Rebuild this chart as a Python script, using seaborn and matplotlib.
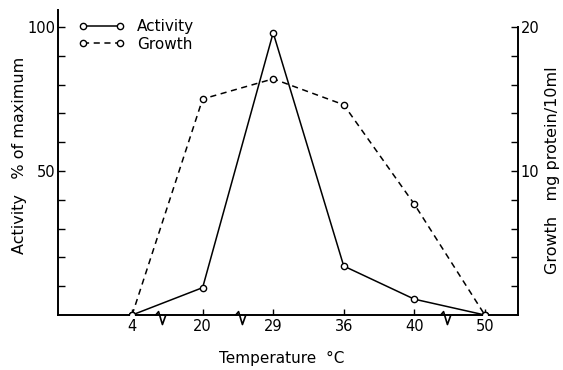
import numpy as np
import pandas as pd
import matplotlib
matplotlib.use("Agg")
import matplotlib.pyplot as plt
from matplotlib.path import Path
import seaborn as sns

# ---- data ----
temperatures = ["4", "20", "29", "36", "40", "50"]
activity = [0, 9.5, 98, 17, 5.5, 0]          # % of maximum
growth = [0, 15.0, 16.4, 14.6, 7.7, 0]       # mg protein / 10 ml
left_ticks = [10, 20, 30, 40, 50, 60, 70, 80, 90, 100]
left_labels = ["", "", "", "", "50", "", "", "", "", "100"]
right_ticks = [2, 4, 6, 8, 10, 12, 14, 16, 18, 20]
right_labels = ["", "", "", "", "10", "", "", "", "", "20"]
break_positions = [0.4, 1.53, 4.43]   # axis-break marks between categories

pos = np.arange(len(temperatures))
df = pd.DataFrame({"pos": pos, "activity": activity, "growth": growth})

sns.set_style("ticks", {"text.color": "black", "xtick.color": "black",
                        "ytick.color": "black", "axes.labelcolor": "black"})
plt.rcParams["font.family"] = ["DejaVu Sans"]

fig = plt.figure(figsize=(5.63, 3.70), dpi=100)
ax = fig.add_axes([58 / 563, 1 - 315 / 370, 460 / 563, 305 / 370])
ax2 = ax.twinx()

line_kw = dict(color="black", linewidth=1.1, marker="o", markersize=4.5,
               markerfacecolor="white", markeredgecolor="black",
               markeredgewidth=1.0)

sns.lineplot(data=df, x="pos", y="activity", ax=ax, label="Activity",
             legend=False, **line_kw)
sns.lineplot(data=df, x="pos", y="growth", ax=ax2, label="Growth",
             legend=False, linestyle=(0, (4, 3)), **line_kw)

ax.set_xlim(-1.05, 5.47)
ax.set_ylim(0, 105.9)
ax2.set_ylim(0, 105.9 / 5)

# x axis
ax.set_xticks(pos)
ax.set_xticklabels(temperatures, fontsize=10.5)
ax.tick_params(axis="x", direction="in", length=4, width=1, pad=3,
               colors="black")
# left y axis
ax.set_yticks(left_ticks)
ax.set_yticklabels(left_labels, fontsize=10.5)
ax.tick_params(axis="y", direction="in", length=5, width=1, pad=2,
               colors="black")
# right y axis
ax2.set_yticks(right_ticks)
ax2.set_yticklabels(right_labels, fontsize=10.5)
ax2.tick_params(axis="y", direction="in", length=5, width=1, pad=2,
                colors="black")

for a in (ax, ax2):
    a.spines["top"].set_visible(False)
    for s in a.spines.values():
        s.set_linewidth(1.4)
        s.set_color("black")
ax.spines["right"].set_visible(False)
ax2.spines["left"].set_visible(False)
ax2.spines["bottom"].set_visible(False)
ax2.spines["right"].set_bounds(0, 20)
ax.set_xlabel("")
ax.set_ylabel("")
ax2.set_ylabel("")

# axis labels
ax.text(-0.083, 0.525, "Activity   % of maximum", transform=ax.transAxes,
        rotation=90, ha="center", va="center", fontsize=11.5, color="black")
ax.text(1.076, 0.475, "Growth   mg protein/10ml", transform=ax.transAxes,
        rotation=90, ha="center", va="center", fontsize=11.5, color="black")
ax.text(0.487, -0.141, "Temperature  \u00b0C", transform=ax.transAxes,
        ha="center", va="center", fontsize=11, color="black")

# axis break zigzags on the x axis
zig = Path([(-4, 0), (-1.5, 3), (1.5, -7), (4, 0)])
xt = ax.get_xaxis_transform()
for bx in break_positions:
    ax.plot([bx], [0], transform=xt, marker=zig, markersize=13,
            markeredgecolor="black", markeredgewidth=1.2, fillstyle="none",
            linestyle="none", clip_on=False, zorder=6)

# legend
h1, l1 = ax.get_legend_handles_labels()
h2, l2 = ax2.get_legend_handles_labels()
leg = ax2.legend(h1 + h2, l1 + l2, loc="center left",
                 bbox_to_anchor=(0.045, 0.916), frameon=False, fontsize=11,
                 numpoints=2, handlelength=3.0, handletextpad=0.8,
                 labelspacing=0.15, borderpad=0, borderaxespad=0)
for t in leg.get_texts():
    t.set_color("black")

fig.savefig("out.png", dpi=100)
